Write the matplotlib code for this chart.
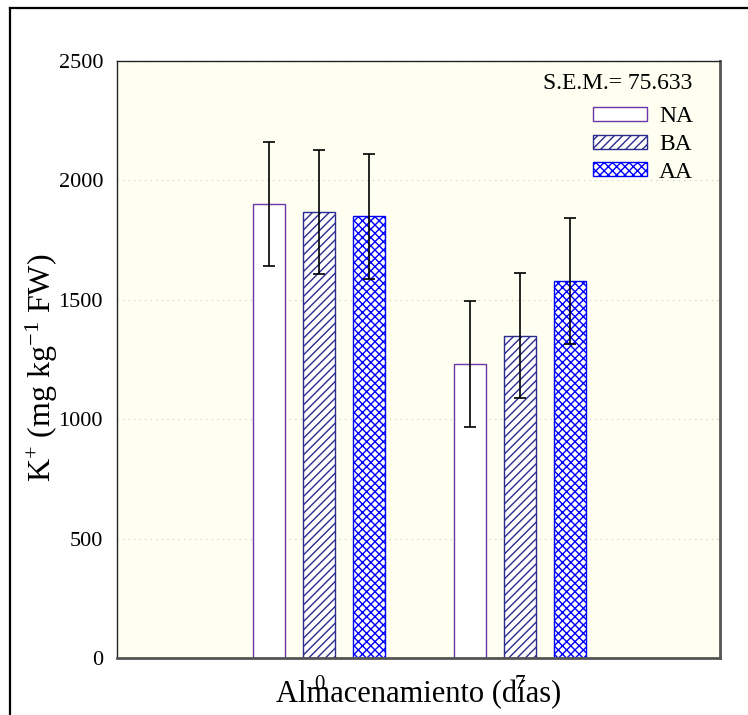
import matplotlib
matplotlib.use("Agg")
import matplotlib.pyplot as plt
import numpy as np
from matplotlib.lines import Line2D

# datos
dias = ["0", "7"]
tratamientos = ["NA", "BA", "AA"]
na_vals = [1901, 1232]
ba_vals = [1869, 1350]
aa_vals = [1849, 1580]
na_err = [261, 263]
ba_err = [260, 262]
aa_err = [262, 263]
sem_txt = "S.E.M.= 75.633"
y_ticks = [0, 500, 1000, 1500, 2000, 2500]

plt.rcParams['font.family'] = ['Liberation Serif', 'DejaVu Serif']
plt.rcParams['mathtext.fontset'] = 'custom'
plt.rcParams['mathtext.rm'] = 'Liberation Serif'
plt.rcParams['mathtext.it'] = 'Liberation Serif:italic'
plt.rcParams['hatch.linewidth'] = 1.0

fig = plt.figure(figsize=(7.48, 7.15), dpi=100)
ax = fig.add_axes([0.1564, 0.0797, 0.8062, 0.835])
ax.set_facecolor('#FEFEF1')

x = np.arange(len(dias))
w = 0.16
off = 0.25

estilos = [
    dict(facecolor='white', edgecolor='#6A36A8', hatch=None),
    dict(facecolor='white', edgecolor='#2B2B8F', hatch='////'),
    dict(facecolor='white', edgecolor='#0000FF', hatch='xxxx'),
]
series = [na_vals, ba_vals, aa_vals]
errores = [na_err, ba_err, aa_err]

for i, (vals, errs, st) in enumerate(zip(series, errores, estilos)):
    pos = x + (i - 1) * off
    ax.bar(pos, vals, width=w, linewidth=1.0, label=tratamientos[i], zorder=2, **st)
    ax.errorbar(pos, vals, yerr=errs, fmt='none', ecolor='black', elinewidth=1.2,
                capsize=4.5, capthick=1.2, zorder=3)

ax.set_xlim(-1.01, 2.0)
ax.set_ylim(0, 2500)
ax.set_yticks(y_ticks)
ax.set_xticks(x)
ax.set_xticklabels(dias)
ax.tick_params(axis='both', length=0)
ax.tick_params(axis='y', pad=10, labelsize=16)
ax.tick_params(axis='x', pad=12, labelsize=15)

ax.yaxis.grid(True, linestyle=(0, (1, 4)), color='#C8C8C8', linewidth=0.8)
ax.set_axisbelow(True)

for s in ['top', 'left']:
    ax.spines[s].set_color('#222222')
    ax.spines[s].set_linewidth(1.0)
for s in ['right', 'bottom']:
    ax.spines[s].set_color('#555555')
    ax.spines[s].set_linewidth(2.0)

ax.set_ylabel(r'K$^{+}$ (mg kg$^{-1}$ FW)', fontsize=23)
ax.yaxis.set_label_coords(-0.094, 0.486)
ax.set_xlabel('Almacenamiento (días)', fontsize=22)
ax.xaxis.set_label_coords(0.5, -0.037)

# S.E.M. encima de la leyenda
ax.text(0.9536, 0.963, sem_txt, transform=ax.transAxes, ha='right', va='center', fontsize=17)

leg = ax.legend(loc='upper right', bbox_to_anchor=(0.955, 0.924), frameon=False,
                fontsize=17, handlelength=2.3, handleheight=0.55, labelspacing=0.28,
                handletextpad=0.5, borderpad=0.0, borderaxespad=0.0)

# marco exterior
fig.add_artist(Line2D([10 / 748, 10 / 748], [0, 1 - 8 / 715], color='black', linewidth=1.6,
                      transform=fig.transFigure))
fig.add_artist(Line2D([10 / 748, 1], [1 - 8 / 715, 1 - 8 / 715], color='black', linewidth=1.6,
                      transform=fig.transFigure))

fig.savefig('out.png', dpi=100)
